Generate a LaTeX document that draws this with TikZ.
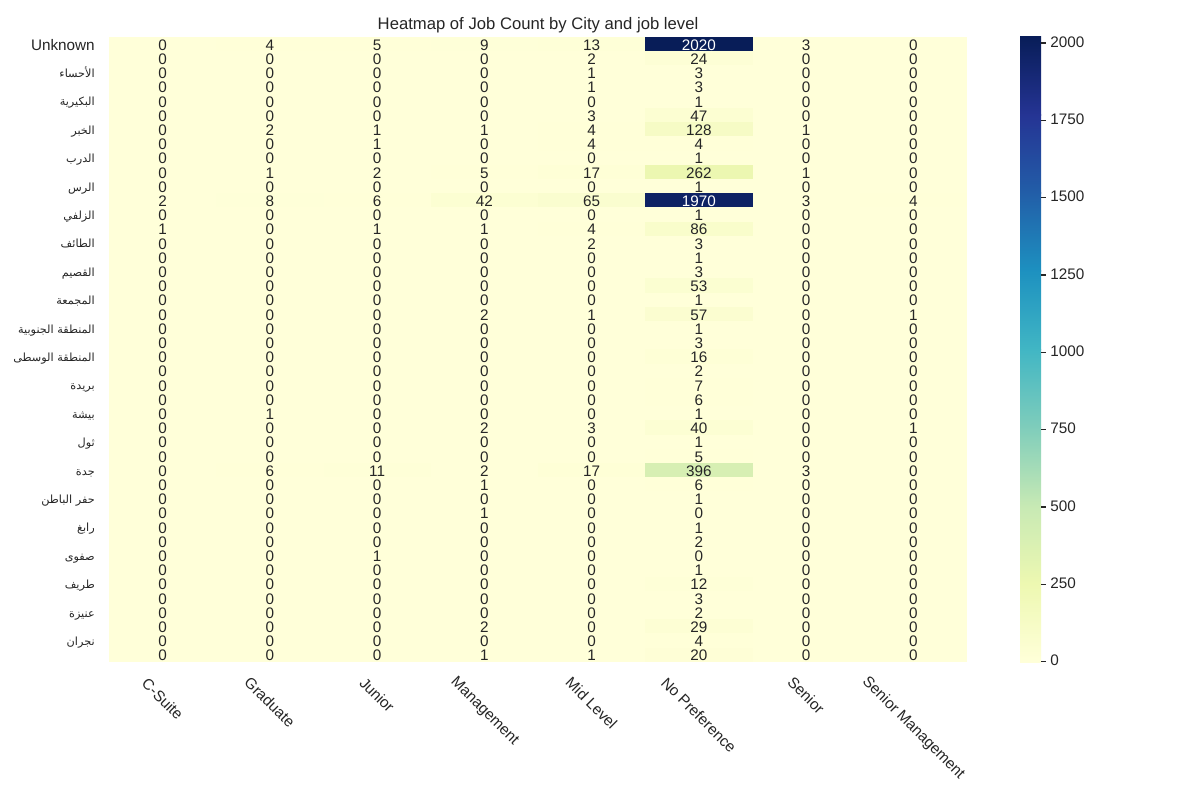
\documentclass[tikz,border=0pt]{standalone}
\usepackage{fontspec}
\setmainfont{Liberation Sans}
\newfontfamily\arabicfont[Script=Arabic]{DejaVu Sans}
\TeXXeTstate=1
\definecolor{txt}{HTML}{262626}
\definecolor{yb0}{HTML}{FFFFD9}
\definecolor{yb1}{HTML}{EDF8B1}
\definecolor{yb2}{HTML}{C7E9B4}
\definecolor{yb3}{HTML}{7FCDBB}
\definecolor{yb4}{HTML}{41B6C4}
\definecolor{yb5}{HTML}{1D91C0}
\definecolor{yb6}{HTML}{225EA8}
\definecolor{yb7}{HTML}{253494}
\definecolor{yb8}{HTML}{081D58}
\newcommand\hmcolor[1]{%
  \pgfmathsetmacro\hmt{#1/2020*8}%
  \pgfmathtruncatemacro\hmi{min(floor(\hmt),7)}%
  \pgfmathsetmacro\hmf{\hmt-\hmi}%
  \pgfmathtruncatemacro\hmR{round({255,237,199,127,65,29,34,37,8}[\hmi]*(1-\hmf)+{255,237,199,127,65,29,34,37,8}[\hmi+1]*\hmf)}%
  \pgfmathtruncatemacro\hmG{round({255,248,233,205,182,145,94,52,29}[\hmi]*(1-\hmf)+{255,248,233,205,182,145,94,52,29}[\hmi+1]*\hmf)}%
  \pgfmathtruncatemacro\hmB{round({217,177,180,187,196,192,168,148,88}[\hmi]*(1-\hmf)+{217,177,180,187,196,192,168,148,88}[\hmi+1]*\hmf)}%
  \definecolor{hc}{RGB}{\hmR,\hmG,\hmB}%
}
\def\hmL{109}
\def\hmW{107.25}
\def\hmT{36.9}
\def\hmH{14.2}
\begin{document}
\begin{tikzpicture}[x=0.72pt,y=-0.72pt,
  num/.style={inner sep=0pt, anchor=base, font=\fontsize{11}{13}\selectfont},
  ylab/.style={inner sep=0pt, anchor=base east, text=txt, font=\fontsize{11}{13}\selectfont},
  arlab/.style={inner sep=0pt, anchor=base east, text=txt, font=\fontsize{8.1}{9.5}\arabicfont},
  xlab/.style={inner sep=0pt, anchor=center, rotate=-45, text=txt, font=\fontsize{11}{13}\selectfont},
  cblab/.style={inner sep=0pt, anchor=base west, text=txt, font=\fontsize{11}{13}\selectfont},
  cbtick/.style={txt, line width=0.9pt}]
\useasboundingbox (0,0) rectangle (1200,800);
\fill[white] (0,0) rectangle (1200,800);
% heatmap background
\fill[yb0] (109,36.9) rectangle (967,661.7);
\foreach \row [count=\r] in {
 {0,4,5,9,13,2020,3,0},
 {0,0,0,0,2,24,0,0},
 {0,0,0,0,1,3,0,0},
 {0,0,0,0,1,3,0,0},
 {0,0,0,0,0,1,0,0},
 {0,0,0,0,3,47,0,0},
 {0,2,1,1,4,128,1,0},
 {0,0,1,0,4,4,0,0},
 {0,0,0,0,0,1,0,0},
 {0,1,2,5,17,262,1,0},
 {0,0,0,0,0,1,0,0},
 {2,8,6,42,65,1970,3,4},
 {0,0,0,0,0,1,0,0},
 {1,0,1,1,4,86,0,0},
 {0,0,0,0,2,3,0,0},
 {0,0,0,0,0,1,0,0},
 {0,0,0,0,0,3,0,0},
 {0,0,0,0,0,53,0,0},
 {0,0,0,0,0,1,0,0},
 {0,0,0,2,1,57,0,1},
 {0,0,0,0,0,1,0,0},
 {0,0,0,0,0,3,0,0},
 {0,0,0,0,0,16,0,0},
 {0,0,0,0,0,2,0,0},
 {0,0,0,0,0,7,0,0},
 {0,0,0,0,0,6,0,0},
 {0,1,0,0,0,1,0,0},
 {0,0,0,2,3,40,0,1},
 {0,0,0,0,0,1,0,0},
 {0,0,0,0,0,5,0,0},
 {0,6,11,2,17,396,3,0},
 {0,0,0,1,0,6,0,0},
 {0,0,0,0,0,1,0,0},
 {0,0,0,1,0,0,0,0},
 {0,0,0,0,0,1,0,0},
 {0,0,0,0,0,2,0,0},
 {0,0,1,0,0,0,0,0},
 {0,0,0,0,0,1,0,0},
 {0,0,0,0,0,12,0,0},
 {0,0,0,0,0,3,0,0},
 {0,0,0,0,0,2,0,0},
 {0,0,0,2,0,29,0,0},
 {0,0,0,0,0,4,0,0},
 {0,0,0,1,1,20,0,0}}{
  \foreach \v [count=\c] in \row {
    \pgfmathsetmacro\hmx{\hmL+(\c-0.5)*\hmW}
    \pgfmathsetmacro\hmy{\hmT+(\r-0.5)*\hmH}
    \ifnum\v>0
      \hmcolor{\v}
      \fill[hc] ({\hmx-\hmW/2},{\hmy-\hmH/2}) rectangle ({\hmx+\hmW/2},{\hmy+\hmH/2});
    \fi
    \ifnum\v>1000 \def\tc{white}\else\def\tc{txt}\fi
    \node[num, text=\tc] (c-\r-\c) at (\hmx,{\hmy+6.3}) {\v};
  }
}
% y labels
\node[ylab] (yl-1) at (95,{\hmT+0.5*\hmH+6}) {Unknown};
\foreach \r/\name in {3/الأحساء, 5/البكيرية, 7/الخبر, 9/الدرب, 11/الرس, 13/الزلفي, 15/الطائف, 17/القصيم, 19/المجمعة, 21/المنطقة الجنوبية, 23/المنطقة الوسطى, 25/بريدة, 27/بيشة, 29/ثول, 31/جدة, 33/حفر الباطن, 35/رابغ, 37/صفوى, 39/طريف, 41/عنيزة, 43/نجران}{
  \node[arlab] (yl-\r) at (95,{\hmT+(\r-0.5)*\hmH+5}) {\beginR\name\endR};
}
% x labels
\foreach \c/\lab/\cy in {1/C-Suite/699, 2/Graduate/702.5, 3/Junior/695, 4/Management/711.5, 5/Mid Level/703, 6/No Preference/715, 7/Senior/695.5, 8/Senior Management/728.5}{
  \node[xlab] (xl-\c) at ({\hmL+(\c-0.5)*\hmW},\cy) {\lab};
}
% colorbar
\foreach \k in {0,...,7}{
  \pgfmathtruncatemacro\kk{\k+1}
  \pgfmathsetmacro\ya{661.7-78.1*\k+0.3}
  \pgfmathsetmacro\yb{661.7-78.1*\kk-0.3}
  \shade[bottom color=yb\k, top color=yb\kk] (1020,\ya) rectangle (1041,\yb);
}
\foreach \t [count=\n] in {0,250,...,2000}{
  \pgfmathsetmacro\ty{661.7-\t/2020*624.8}
  \coordinate (tk-\n) at (1041,\ty);
  \coordinate (te-\n) at (1046,\ty);
  \draw[cbtick] (tk-\n) -- (te-\n);
  \node[cblab] (cb-\n) at (1050,{\ty+4}) {\t};
}
% title
\node[inner sep=0pt, anchor=base, text=txt, font=\fontsize{12}{14}\selectfont] (title) at (538,29.3) {Heatmap of Job Count by City and job level};
\end{tikzpicture}
\end{document}
